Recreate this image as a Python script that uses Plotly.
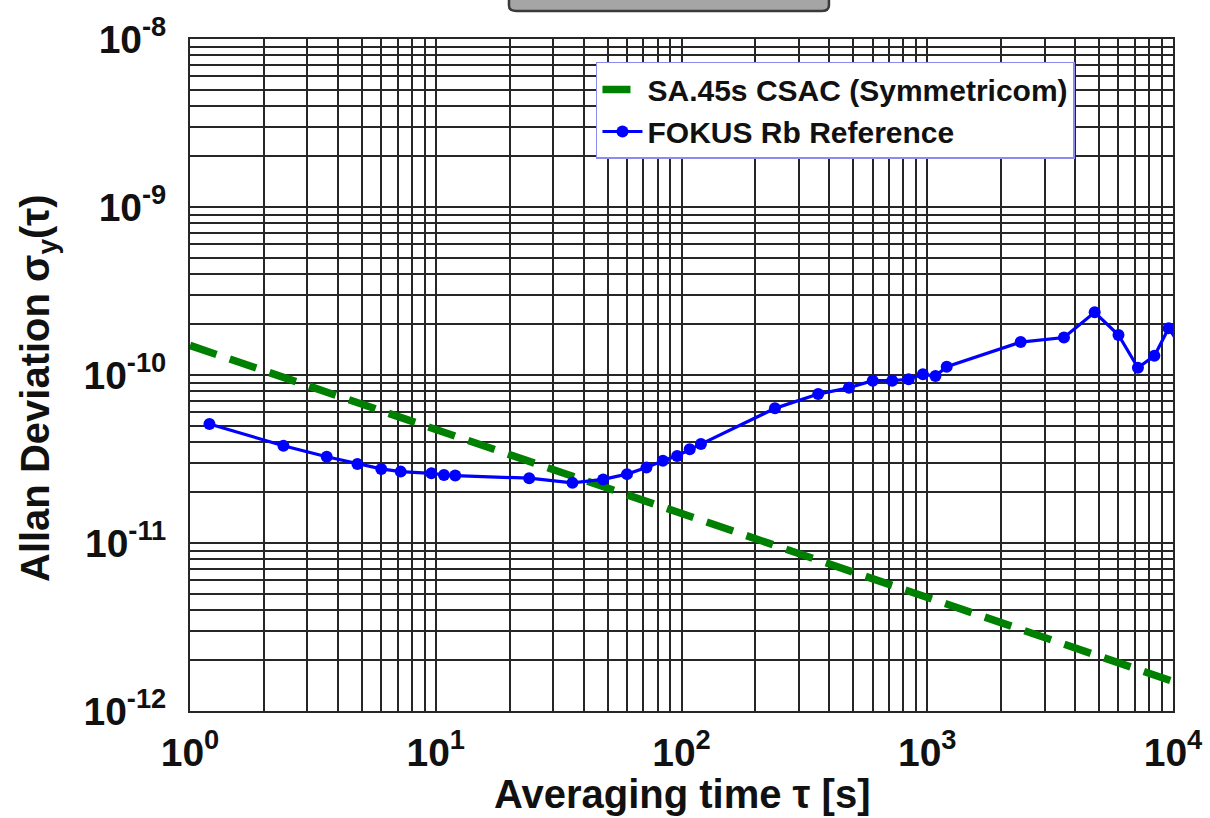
import plotly.graph_objects as go

# ---- data ----
tau_csac = [1, 10000]
adev_csac = [1.5e-10, 1.5e-12]

tau_rb = [1.2, 2.4, 3.6, 4.8, 6.0, 7.2, 9.6, 10.8, 12, 24, 36, 48, 60, 72, 84, 96,
          108, 120, 240, 360, 480, 600, 720, 840, 960, 1080, 1200, 2400, 3600,
          4800, 6000, 7200, 8400, 9600, 10800]
adev_rb = [5.11e-11, 3.79e-11, 3.26e-11, 2.95e-11, 2.76e-11, 2.66e-11, 2.60e-11,
           2.54e-11, 2.52e-11, 2.43e-11, 2.28e-11, 2.39e-11, 2.57e-11, 2.81e-11,
           3.09e-11, 3.30e-11, 3.61e-11, 3.88e-11, 6.33e-11, 7.70e-11, 8.40e-11,
           9.25e-11, 9.25e-11, 9.43e-11, 1.01e-10, 9.86e-11, 1.12e-10, 1.57e-10,
           1.67e-10, 2.36e-10, 1.73e-10, 1.105e-10, 1.30e-10, 1.90e-10, 1.47e-10]

x_decades = [0, 1, 2, 3, 4]
y_decades = [-12, -11, -10, -9, -8]
name_csac = "SA.45s CSAC (Symmetricom)"
name_rb = "FOKUS Rb Reference"
x_title = "Averaging time τ [s]"
y_title = "Allan Deviation σ<sub>y</sub>(τ)"

FONT = "Liberation Sans, Arial, sans-serif"


def decade_ticks(decades):
    major = [10.0 ** d for d in decades]
    labels = [f"10<sup>{d}</sup>" for d in decades]
    minor = [m * 10.0 ** d for d in decades[:-1] for m in range(2, 10)]
    return major, labels, minor


xv, xt, xm = decade_ticks(x_decades)
yv, yt, ym = decade_ticks(y_decades)

fig = go.Figure()
fig.add_trace(go.Scatter(
    x=tau_csac, y=adev_csac, mode="lines", name=name_csac,
    line=dict(color="#008000", width=7.5, dash="28px,14px"),
))
fig.add_trace(go.Scatter(
    x=tau_rb, y=adev_rb, mode="lines+markers", name=name_rb,
    line=dict(color="#0000ff", width=3.2),
    marker=dict(color="#0000ff", size=12, symbol="circle"),
))

GRID = "#262626"
axis_common = dict(
    type="log", showgrid=True, gridcolor=GRID, gridwidth=1.6,
    showline=True, linecolor=GRID, linewidth=1.8, mirror=True,
    ticks="", zeroline=False, automargin=False,
    tickfont=dict(family=FONT, size=39, color="#111", weight="bold"),
    tickmode="array",
)
fig.update_xaxes(range=[0, 4], tickvals=xv, ticktext=xt, ticklabelstandoff=6,
                 minor=dict(tickmode="array", tickvals=xm, showgrid=True,
                            gridcolor=GRID, gridwidth=1.6, ticks=""),
                 **axis_common)
fig.update_yaxes(range=[-12, -8], tickvals=yv, ticktext=yt, ticklabelstandoff=14,
                 minor=dict(tickmode="array", tickvals=ym, showgrid=True,
                            gridcolor=GRID, gridwidth=1.6, ticks=""),
                 **axis_common)

fig.add_annotation(x=0.5, y=-0.1235, xref="paper", yref="paper", text=x_title,
                   showarrow=False, xanchor="center", yanchor="middle",
                   font=dict(family=FONT, size=40, color="#111", weight="bold"))
fig.add_annotation(x=-0.1546, y=0.4807, xref="paper", yref="paper", text=y_title,
                   textangle=-90, showarrow=False, xanchor="center", yanchor="middle",
                   font=dict(family=FONT, size=40, color="#111", weight="bold"))

# grey tab at the top of the image
fig.add_shape(type="path", xref="paper", yref="paper",
              path="M 0.3245 1.07 L 0.3245 1.05 Q 0.3245 1.0417 0.332 1.0417 L 0.642 1.0417 Q 0.650 1.0417 0.650 1.05 L 0.650 1.07 Z",
              fillcolor="#a5a5a5", line=dict(color="#3a3a3a", width=2.5), layer="above")

fig.update_layout(
    width=1210, height=818,
    margin=dict(l=190, r=37, t=39, b=107),
    paper_bgcolor="white", plot_bgcolor="white",
    showlegend=True,
    legend=dict(
        x=0.413, y=0.9658, xanchor="left", yanchor="top",
        bgcolor="white", bordercolor="#8c8cf0", borderwidth=1.5,
        font=dict(family=FONT, size=30, color="#111", weight="bold"),
        tracegroupgap=0, itemwidth=40,
    ),
)

fig.write_html("out.html",
               config={"displayModeBar": False},
               post_script="document.body.style.margin='0px';document.body.style.overflow='hidden';")
